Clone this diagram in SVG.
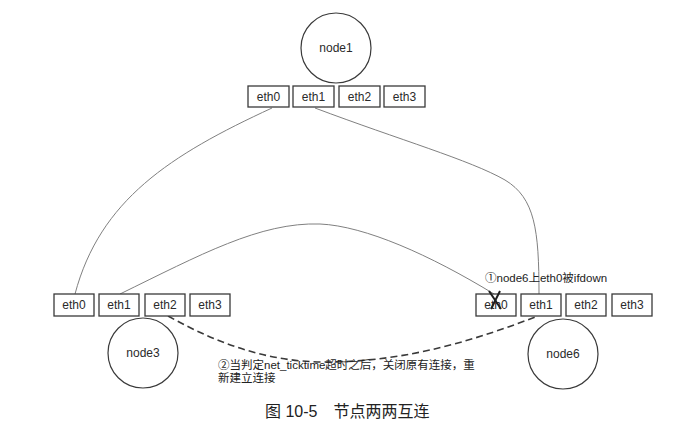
<svg xmlns="http://www.w3.org/2000/svg" width="680" height="430" viewBox="0 0 680 430">
  <style>
    .node circle { fill: #fff; stroke: #3a3a3a; stroke-width: 1.2; }
    .port rect { fill: #fff; stroke: #3a3a3a; stroke-width: 1.3; }
    .lbl { font-family: "Liberation Sans", Arial, sans-serif; font-size: 12px; fill: #2a2a2a; text-anchor: middle; dominant-baseline: central; }
    .note { font-family: "Liberation Sans", "Noto Sans CJK SC", sans-serif; font-size: 11.5px; fill: #222; }
    .cap { font-family: "Liberation Sans", "Noto Sans CJK SC", sans-serif; font-size: 16px; fill: #222; }
    .link { fill: none; stroke: #808080; stroke-width: 1; }
    .relink { fill: none; stroke: #3a3a3a; stroke-width: 1.6; stroke-dasharray: 7 4; }
    .cross { stroke: #1e1e1e; stroke-width: 2; }
  </style>
  <rect width="680" height="430" fill="#fff"/>

  <!-- links between ports -->
  <g id="connectors">
    <path class="link" d="M272,108 C170,155 100,200 75,294"/>
    <path class="link" d="M120,294 C200,255 260,222 320,224 C365,226 430,255 494,294"/>
    <path class="link" d="M315,108 C400,140 470,160 505,180 C535,198 539,230 539,294"/>
    <path class="relink" d="M168,316 C220,345 270,362 325,362 C410,362 480,338 538,316"/>
  </g>

  <!-- node1 -->
  <g id="node1" class="node">
    <circle cx="336" cy="48" r="35"/>
    <text class="lbl" x="336" y="48">node1</text>
    <g class="port">
      <rect x="248" y="86" width="41" height="21"/>
      <text class="lbl" x="268.5" y="96.5">eth0</text>
      <rect x="293" y="86" width="41" height="21"/>
      <text class="lbl" x="313.5" y="96.5">eth1</text>
      <rect x="339" y="86" width="41" height="21"/>
      <text class="lbl" x="359.5" y="96.5">eth2</text>
      <rect x="384" y="86" width="41" height="21"/>
      <text class="lbl" x="404.5" y="96.5">eth3</text>
    </g>
  </g>

  <!-- node3 -->
  <g id="node3" class="node">
    <circle cx="143" cy="353" r="35"/>
    <text class="lbl" x="143" y="353">node3</text>
    <g class="port">
      <rect x="54" y="294" width="40" height="22"/>
      <text class="lbl" x="74" y="305">eth0</text>
      <rect x="99" y="294" width="40" height="22"/>
      <text class="lbl" x="119" y="305">eth1</text>
      <rect x="145" y="294" width="40" height="22"/>
      <text class="lbl" x="165" y="305">eth2</text>
      <rect x="190" y="294" width="40" height="22"/>
      <text class="lbl" x="210" y="305">eth3</text>
    </g>
  </g>

  <!-- node6 -->
  <g id="node6" class="node">
    <circle cx="563" cy="354" r="35"/>
    <text class="lbl" x="563" y="354">node6</text>
    <g class="port">
      <rect x="476" y="294" width="40" height="22"/>
      <text class="lbl" x="496" y="305">eth0</text>
      <rect x="521" y="294" width="40" height="22"/>
      <text class="lbl" x="541" y="305">eth1</text>
      <rect x="566" y="294" width="40" height="22"/>
      <text class="lbl" x="586" y="305">eth2</text>
      <rect x="612" y="294" width="40" height="22"/>
      <text class="lbl" x="632" y="305">eth3</text>
    </g>
  </g>

  <!-- cross over node6 eth0: interface taken down -->
  <g id="ifdown-mark">
    <line class="cross" x1="489" y1="291" x2="501" y2="309"/>
    <line class="cross" x1="500" y1="291" x2="491" y2="309"/>
  </g>

  <!-- annotations -->
  <g id="notes">
    <text class="note" x="485" y="282">①node6上eth0被ifdown</text>
    <text class="note" x="218" y="369">②当判定net_ticktime超时之后，关闭原有连接，重</text>
    <text class="note" x="218" y="382">新建立连接</text>
    <text class="cap" x="265" y="417">图 10-5　节点两两互连</text>
  </g>
</svg>
